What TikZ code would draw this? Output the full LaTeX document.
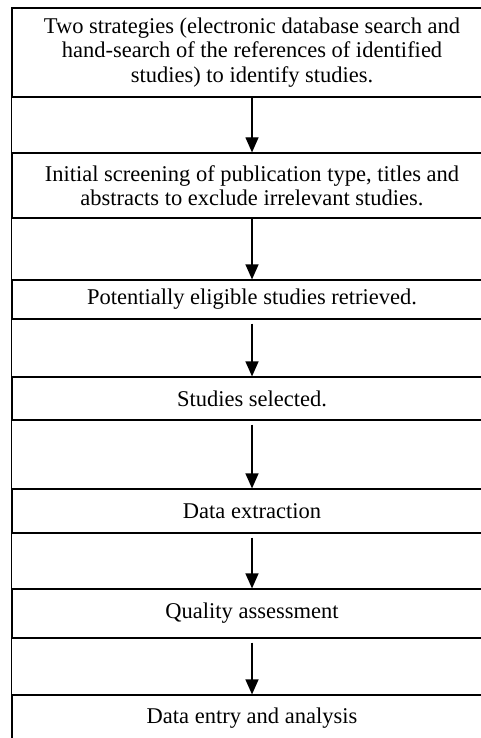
\documentclass[tikz,border=0pt]{standalone}
\usepackage{fontspec}
\setmainfont{Liberation Serif}
\usetikzlibrary{arrows.meta}
\begin{document}
\begin{tikzpicture}[x=1pt,y=-1pt,
  stage/.style={draw, line width=1.2pt, minimum width=480pt, inner sep=0pt,
    align=center, font=\fontsize{22.5}{24.5}\selectfont},
  flow/.style={line width=1.2pt, -{Triangle[width=13pt,length=15pt]}}]
\useasboundingbox (0,0) rectangle (481,738);
\clip (0,0) rectangle (481,738);
\node[stage, minimum height=89pt] (n1) at (252,52.5)
  {Two strategies (electronic database search and\\hand-search of the references of identified\\studies) to identify studies.};
\node[stage, minimum height=65pt] (n2) at (252,185.5)
  {Initial screening of publication type, titles and\\abstracts to exclude irrelevant studies.};
\node[stage, minimum height=39pt] (n3) at (252,299.5) {Potentially eligible studies retrieved.};
\node[stage, minimum height=43pt] (n4) at (252,398.5) {Studies selected.};
\node[stage, minimum height=44pt] (n5) at (252,511) {Data extraction};
\node[stage, minimum height=49pt] (n6) at (252,613.5) {Quality assessment};
\node[stage, minimum height=47pt] (n7) at (252,718.5) {Data entry and analysis};
\draw[line width=0.9pt] (n1.north west) -- (n7.south west);
\draw[flow] (n1.south) -- (n2.north);
\draw[flow] (n2.south) -- (n3.north);
\draw[flow] ([yshift=-4pt]n3.south) -- (n4.north);
\draw[flow] ([yshift=-4pt]n4.south) -- (n5.north);
\draw[flow] ([yshift=-4pt]n5.south) -- (n6.north);
\draw[flow] ([yshift=-4pt]n6.south) -- (n7.north);
\end{tikzpicture}
\end{document}
